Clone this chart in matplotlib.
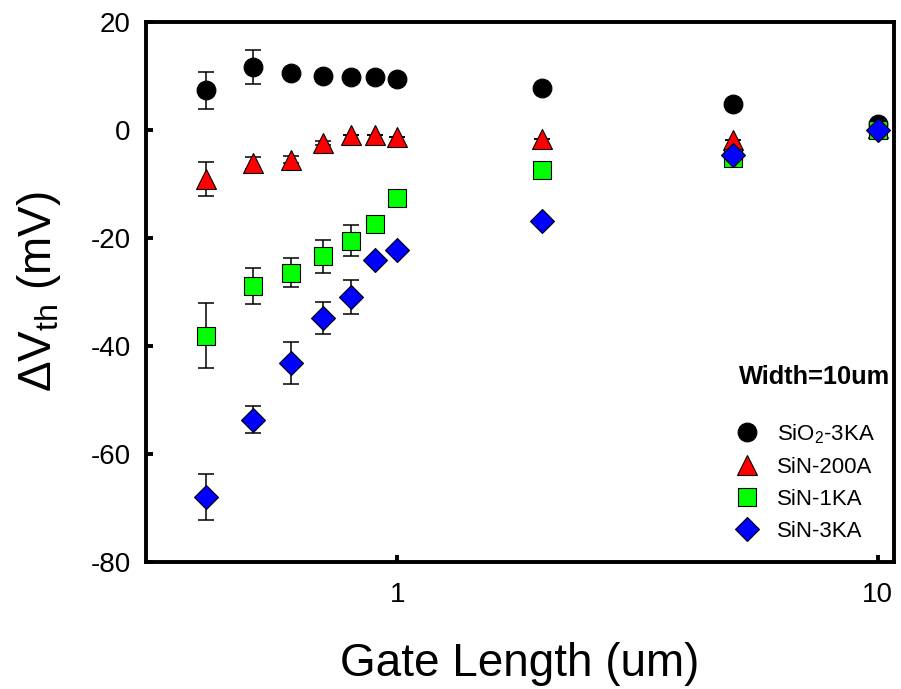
"""
Threshold voltage shift vs gate length for different passivation layers.
"""

import numpy as np
import matplotlib
matplotlib.use("Agg")
import matplotlib.pyplot as plt
from matplotlib.ticker import NullLocator, FixedLocator, FixedFormatter

plt.rcParams.update({
    "font.family": ["Liberation Sans", "DejaVu Sans"],
    "mathtext.fontset": "custom",
    "mathtext.rm": "Liberation Sans",
    "mathtext.it": "Liberation Sans",
    "axes.unicode_minus": False,
})

# gate length (um)
gate_length = [0.4, 0.5, 0.6, 0.7, 0.8, 0.9, 1.0, 2.0, 5.0, 10.0]

# delta Vth (mV) and error bars for each dielectric
sio2_3ka = [7.3, 11.6, 10.6, 10.0, 9.8, 9.7, 9.4, 7.7, 4.7, 1.1]
sio2_3ka_err = [3.4, 3.2, 0, 0, 0, 0, 0, 0, 0, 0]

sin_200a = [-9.1, -6.2, -5.5, -2.4, -1.0, -1.0, -1.3, -1.7, -1.8, 0.4]
sin_200a_err = [3.2, 1.1, 0.6, 0.4, 0, 0, 0, 0, 0, 0]

sin_1ka = [-38.1, -28.9, -26.4, -23.4, -20.5, -17.5, -12.6, -7.4, -5.2, -0.1]
sin_1ka_err = [6.0, 3.4, 2.6, 3.0, 2.8, 0, 0, 0, 0, 0]

sin_3ka = [-67.9, -53.6, -43.1, -34.8, -30.9, -24.0, -22.2, -16.9, -4.6, -0.1]
sin_3ka_err = [4.2, 2.5, 3.9, 2.9, 3.1, 0, 0, 0, 0, 0]

series = [
    ("SiO$_2$-3KA", sio2_3ka, sio2_3ka_err, "o", "black", 13.5),
    ("SiN-200A", sin_200a, sin_200a_err, "^", "#FF0000", 14),
    ("SiN-1KA", sin_1ka, sin_1ka_err, "s", "#00FF00", 12.5),
    ("SiN-3KA", sin_3ka, sin_3ka_err, "D", "#0000FF", 12),
]

fig = plt.figure(figsize=(9.01, 6.89), dpi=100)
ax = fig.add_axes([0.162, 0.184, 0.830, 0.7845])

for label, vals, errs, marker, color, ms in series:
    ax.errorbar(gate_length, vals, yerr=errs, fmt="none", ecolor="black",
                elinewidth=1.1, capsize=6, capthick=1.1, zorder=2)
    ax.plot(gate_length, vals, linestyle="none", marker=marker, markersize=ms,
            markerfacecolor=color, markeredgecolor="black", markeredgewidth=0.8,
            label=label, zorder=3)

ax.set_xscale("log")
ax.set_xlim(0.3, 10.8)
ax.set_ylim(-80, 20)
ax.xaxis.set_major_locator(FixedLocator([1, 10]))
ax.xaxis.set_major_formatter(FixedFormatter(["1", "10"]))
ax.xaxis.set_minor_locator(NullLocator())
ax.set_yticks([-80, -60, -40, -20, 0, 20])

for sp in ax.spines.values():
    sp.set_linewidth(2.8)
ax.tick_params(direction="in", length=5, width=2.8, labelsize=20)
ax.tick_params(axis="x", pad=14)
ax.tick_params(axis="y", pad=11)

ax.set_xlabel("Gate Length (um)", fontsize=33, labelpad=25)
ax.set_ylabel("$\\Delta$V$_{th}$ (mV)", fontsize=33, labelpad=20)

ax.text(0.793, 0.343, "Width=10um", transform=ax.transAxes, fontsize=18.3,
        fontweight="bold", va="center", ha="left")

ax.legend(loc="center left", bbox_to_anchor=(0.786, 0.148), frameon=False,
          fontsize=16, handlelength=1.15, handletextpad=0.8,
          labelspacing=0.5, borderpad=0, borderaxespad=0, numpoints=1)

fig.savefig("out.png", dpi=100)
